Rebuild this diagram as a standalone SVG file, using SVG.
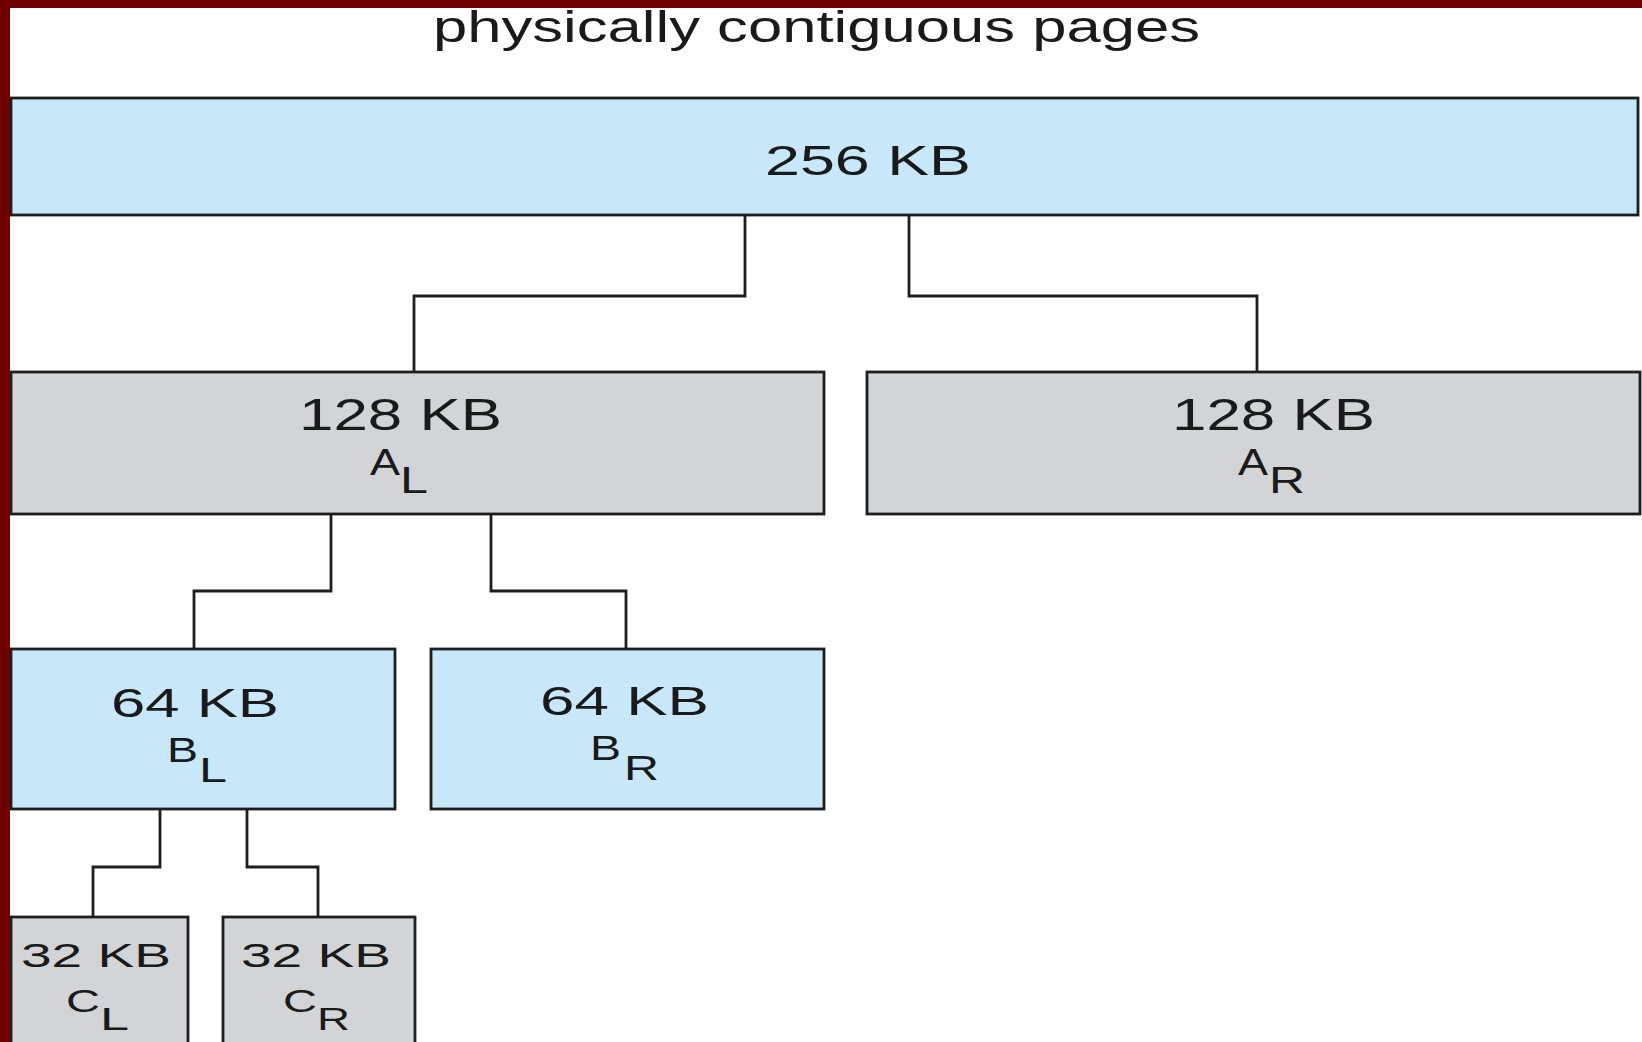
<svg xmlns="http://www.w3.org/2000/svg" width="1642" height="1042" viewBox="0 0 1642 1042">
  <style>
    .blk { fill: #c8e8f9; stroke: #1e1e1e; stroke-width: 2.8; }
    .gry { fill: #d2d4d7; stroke: #1e1e1e; stroke-width: 2.8; }
    .lbl { font-family: "Liberation Sans", Arial, sans-serif; fill: #1a1a1a; }
    .wire { fill: none; stroke: #1e1e1e; stroke-width: 2.8; }
  </style>

  <rect x="0" y="0" width="1642" height="1042" fill="#ffffff"/>

  <!-- title -->
  <text class="lbl" x="433" y="42" font-size="44" textLength="767" lengthAdjust="spacingAndGlyphs">physically contiguous pages</text>

  <!-- connectors -->
  <g id="connectors">
    <polyline class="wire" points="745,215 745,296 414,296 414,372"/>
    <polyline class="wire" points="909,215 909,296 1257,296 1257,372"/>
    <polyline class="wire" points="331,514 331,591 194,591 194,649"/>
    <polyline class="wire" points="491,514 491,591 626,591 626,649"/>
    <polyline class="wire" points="160,809 160,867 93,867 93,917"/>
    <polyline class="wire" points="247,809 247,867 318,867 318,917"/>
  </g>

  <!-- 256 KB -->
  <g id="node-256">
    <rect class="blk" x="11" y="98" width="1627" height="117"/>
    <text class="lbl" x="765" y="175" font-size="43" textLength="206" lengthAdjust="spacingAndGlyphs">256 KB</text>
  </g>

  <!-- 128 KB A_L -->
  <g id="node-AL">
    <rect class="gry" x="11" y="372" width="813" height="142"/>
    <text class="lbl" x="299" y="430" font-size="44" textLength="203" lengthAdjust="spacingAndGlyphs">128 KB</text>
    <text class="lbl" font-size="37"><tspan x="370" y="475" textLength="30" lengthAdjust="spacingAndGlyphs">A</tspan><tspan x="400" y="493" textLength="28" lengthAdjust="spacingAndGlyphs">L</tspan></text>
  </g>

  <!-- 128 KB A_R -->
  <g id="node-AR">
    <rect class="gry" x="867" y="372" width="773" height="142"/>
    <text class="lbl" x="1172" y="430" font-size="44" textLength="203" lengthAdjust="spacingAndGlyphs">128 KB</text>
    <text class="lbl" font-size="37"><tspan x="1238" y="475" textLength="30" lengthAdjust="spacingAndGlyphs">A</tspan><tspan x="1269" y="493" textLength="36" lengthAdjust="spacingAndGlyphs">R</tspan></text>
  </g>

  <!-- 64 KB B_L -->
  <g id="node-BL">
    <rect class="blk" x="11" y="649" width="384" height="160"/>
    <text class="lbl" x="111" y="717" font-size="41" textLength="168" lengthAdjust="spacingAndGlyphs">64 KB</text>
    <text class="lbl" font-size="35"><tspan x="167" y="762" textLength="31" lengthAdjust="spacingAndGlyphs">B</tspan><tspan x="199" y="782" textLength="28" lengthAdjust="spacingAndGlyphs">L</tspan></text>
  </g>

  <!-- 64 KB B_R -->
  <g id="node-BR">
    <rect class="blk" x="431" y="649" width="393" height="160"/>
    <text class="lbl" x="540" y="715" font-size="41" textLength="169" lengthAdjust="spacingAndGlyphs">64 KB</text>
    <text class="lbl" font-size="35"><tspan x="590" y="760" textLength="31" lengthAdjust="spacingAndGlyphs">B</tspan><tspan x="624" y="780" textLength="35" lengthAdjust="spacingAndGlyphs">R</tspan></text>
  </g>

  <!-- 32 KB C_L -->
  <g id="node-CL">
    <rect class="gry" x="11" y="917" width="177" height="140"/>
    <text class="lbl" x="21" y="967" font-size="33" textLength="150" lengthAdjust="spacingAndGlyphs">32 KB</text>
    <text class="lbl" font-size="31"><tspan x="66" y="1012" textLength="34" lengthAdjust="spacingAndGlyphs">C</tspan><tspan x="100" y="1030" textLength="29" lengthAdjust="spacingAndGlyphs">L</tspan></text>
  </g>

  <!-- 32 KB C_R -->
  <g id="node-CR">
    <rect class="gry" x="223" y="917" width="192" height="140"/>
    <text class="lbl" x="241" y="967" font-size="33" textLength="150" lengthAdjust="spacingAndGlyphs">32 KB</text>
    <text class="lbl" font-size="31"><tspan x="283" y="1012" textLength="34" lengthAdjust="spacingAndGlyphs">C</tspan><tspan x="317" y="1030" textLength="33" lengthAdjust="spacingAndGlyphs">R</tspan></text>
  </g>

  <!-- frame bars -->
  <rect x="0" y="0" width="1642" height="8" fill="#6f0000"/>
  <rect x="0" y="0" width="10" height="1042" fill="#6f0000"/>
</svg>
